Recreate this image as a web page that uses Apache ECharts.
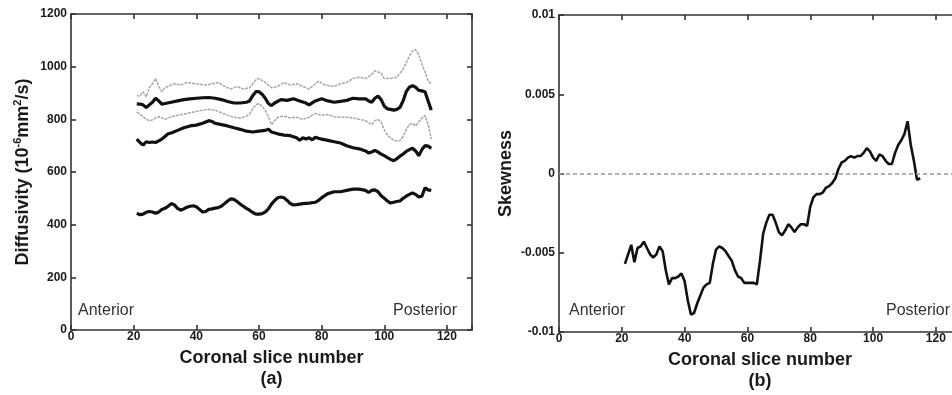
<!DOCTYPE html>
<html><head><meta charset="utf-8">
<script src="https://cdn.jsdelivr.net/npm/echarts@6/dist/echarts.min.js"></script>
<style>html,body{margin:0;padding:0;background:#fff}#c{width:952px;height:395px}</style>
</head><body><div id="c"></div>
<script>
// ---- data ----
const xTicks = [0, 20, 40, 60, 80, 100, 120];
const diffTicks = [0, 200, 400, 600, 800, 1000, 1200];
const skewTicks = [-0.01, -0.005, 0, 0.005, 0.01];

const upperGray = [[21,890],[22,888],[23,905],[24,885],[25,920],[26,935],[27,955],[28,925],[29,905],[30,920],[31,925],[33,935],[35,930],[37,940],[40,935],[43,930],[45,935],[47,940],[49,925],[51,915],[53,925],[55,915],[57,920],[59,950],[60,955],[62,940],[64,920],[66,925],[68,940],[70,930],[72,935],[74,925],[76,915],[78,935],[79,945],[81,930],[84,925],[86,935],[88,940],[90,955],[92,960],[94,955],[96,970],[97,985],[99,975],[100,955],[102,955],[104,960],[106,990],[108,1040],[109,1060],[110,1065],[111,1045],[112,1010],[113,980],[114,945],[115,935]];

const upperBlack = [[21,859],[22,858],[23,855],[24,845],[25,855],[26,865],[27,880],[28,870],[29,858],[30,860],[32,865],[34,870],[36,875],[38,878],[40,880],[42,882],[44,883],[46,880],[48,875],[50,868],[52,862],[54,862],[56,865],[57,870],[58,890],[59,905],[60,905],[61,895],[62,880],[63,860],[64,852],[65,862],[67,875],[69,872],[71,878],[73,870],[75,862],[76,855],[78,870],[80,878],[82,870],[84,865],[86,868],[88,872],[90,880],[92,878],[94,878],[95,870],[96,865],[97,880],[98,888],[99,875],[100,850],[101,840],[102,838],[103,835],[104,838],[105,845],[106,870],[107,905],[108,922],[109,928],[110,922],[111,910],[112,908],[113,905],[114,870],[115,835]];

const lowerGray = [[21,827],[22,820],[23,810],[24,800],[25,795],[26,798],[27,805],[28,810],[29,805],[30,800],[32,810],[34,815],[36,820],[38,825],[40,830],[42,835],[44,838],[46,835],[48,825],[50,815],[52,808],[54,805],[56,812],[57,820],[58,840],[59,855],[60,860],[61,850],[62,835],[63,810],[64,780],[65,795],[66,808],[68,812],[70,805],[72,808],[74,800],[76,808],[78,822],[80,815],[82,818],[84,810],[86,808],[88,808],[90,805],[92,800],[94,795],[96,780],[97,795],[98,800],[99,790],[100,760],[101,740],[102,730],[103,720],[104,718],[105,720],[106,735],[107,760],[108,780],[109,785],[110,775],[111,790],[112,805],[113,815],[114,780],[115,725]];

const middleBlack = [[21,725],[22,712],[23,702],[24,715],[25,712],[26,714],[27,712],[28,718],[29,725],[30,735],[31,745],[32,748],[34,758],[36,768],[38,775],[40,778],[42,785],[44,795],[45,792],[46,785],[48,780],[50,775],[52,768],[54,762],[56,755],[58,752],[60,755],[62,758],[63,762],[64,752],[66,745],[68,740],[70,738],[72,730],[73,720],[74,730],[75,725],[76,730],[77,722],[78,732],[79,728],[80,725],[82,720],[84,715],[86,710],[88,700],[90,692],[92,688],[94,680],[95,672],[96,676],[97,682],[98,676],[99,668],[100,662],[101,655],[102,648],[103,643],[104,650],[105,660],[106,668],[107,678],[108,685],[109,690],[110,680],[111,662],[112,685],[113,700],[114,698],[115,690]];

const lowerBlack = [[21,443],[22,438],[23,440],[24,447],[25,450],[26,448],[27,443],[28,448],[29,458],[30,462],[31,470],[32,480],[33,475],[34,462],[35,455],[36,460],[37,466],[38,470],[39,472],[40,468],[41,458],[42,448],[43,450],[44,458],[45,460],[46,463],[47,465],[48,470],[49,480],[50,490],[51,498],[52,496],[53,488],[54,478],[55,470],[56,462],[57,455],[58,446],[59,440],[60,440],[61,442],[62,448],[63,460],[64,478],[65,492],[66,502],[67,505],[68,502],[69,492],[70,480],[71,475],[72,476],[74,480],[76,482],[78,485],[79,492],[80,502],[81,510],[82,518],[84,525],[86,525],[88,530],[90,535],[92,535],[94,530],[95,522],[96,530],[97,532],[98,525],[99,510],[100,500],[101,490],[102,482],[103,485],[104,488],[105,490],[106,500],[107,508],[108,515],[109,520],[110,515],[111,505],[112,508],[113,540],[114,532],[115,530]];

const skewSlices = [21,22,23,24,25,26,27,28,29,30,31,32,33,34,35,36,37,38,39,40,41,42,43,44,45,46,47,48,49,50,51,52,53,54,55,56,57,58,59,60,61,62,63,64,65,66,67,68,69,70,71,72,73,74,75,76,77,78,79,80,81,82,83,84,85,86,87,88,89,90,91,92,93,94,95,96,97,98,99,100,101,102,103,104,105,106,107,108,109,110,111,112,113,114,115];
const skewValues = [-0.0057,-0.0051,-0.0045,-0.0056,-0.0047,-0.0046,-0.0043,-0.0047,-0.0051,-0.0053,-0.0051,-0.0046,-0.0049,-0.0061,-0.0070,-0.0066,-0.0066,-0.0065,-0.0063,-0.0068,-0.0080,-0.0089,-0.0088,-0.0082,-0.0077,-0.0072,-0.0070,-0.0069,-0.0057,-0.0048,-0.0046,-0.0047,-0.0049,-0.0052,-0.0055,-0.0061,-0.0065,-0.0066,-0.0069,-0.0069,-0.0069,-0.0069,-0.0070,-0.0055,-0.0038,-0.0031,-0.0026,-0.0026,-0.0031,-0.0037,-0.0039,-0.0036,-0.0032,-0.0034,-0.0037,-0.0034,-0.0032,-0.0032,-0.0033,-0.0021,-0.0015,-0.0013,-0.0013,-0.0012,-0.0009,-0.0008,-0.0006,-0.0003,0.0003,0.0007,0.0008,0.0010,0.0011,0.0010,0.0011,0.0011,0.0013,0.0016,0.0014,0.0010,0.0008,0.0012,0.0011,0.0008,0.0006,0.0006,0.0013,0.0018,0.0021,0.0025,0.0033,0.0018,0.0008,-0.0004,-0.0003];

const leftTitleX = 'Coronal slice number\n(a)';
const rightTitleX = 'Coronal slice number\n(b)';
const leftTitleY = '{b|Diffusivity (10}{s|-6}{b|mm}{s|2}{b|/s)}';
const rightTitleY = 'Skewness';

// ---- chart ----
const FONT = 'Liberation Sans, Arial, sans-serif';
const axisLineStyle = {color: '#333', width: 1.6};
const tickLabel = {fontFamily: FONT, fontSize: 12, fontWeight: 'bold', color: '#1a1a1a'};
const xFmt = v => (xTicks.indexOf(v) >= 0 ? String(v) : '');

function xAxes(gi, name) {
  return [
    {type: 'value', gridIndex: gi, min: 0, max: 128, interval: 20, position: 'bottom',
     axisLine: {show: true, onZero: false, lineStyle: axisLineStyle},
     axisTick: {show: true, inside: true, length: 5, lineStyle: axisLineStyle},
     axisLabel: Object.assign({margin: 1, formatter: xFmt}, tickLabel),
     splitLine: {show: false},
     name: name, nameLocation: 'middle', nameGap: 18,
     nameTextStyle: {fontFamily: FONT, fontSize: 18, fontWeight: 'bold', color: '#1a1a1a', lineHeight: 21, verticalAlign: 'top'}},
    {type: 'value', gridIndex: gi, min: 0, max: 128, interval: 20, position: 'top',
     axisLine: {show: true, onZero: false, lineStyle: axisLineStyle},
     axisTick: {show: true, inside: true, length: 5, lineStyle: axisLineStyle},
     axisLabel: {show: false}, splitLine: {show: false}}
  ];
}

function yAxes(gi, min, max, interval, fmt, name, gap, rich) {
  return [
    {type: 'value', gridIndex: gi, min: min, max: max, interval: interval, position: 'left',
     axisLine: {show: true, onZero: false, lineStyle: axisLineStyle},
     axisTick: {show: true, inside: true, length: 5, lineStyle: axisLineStyle},
     axisLabel: Object.assign({margin: 4, formatter: fmt}, tickLabel),
     splitLine: {show: false},
     name: name, nameLocation: 'middle', nameGap: gap, nameRotate: 90,
     nameTextStyle: Object.assign({fontFamily: FONT, fontSize: 18, fontWeight: 'bold', color: '#1a1a1a'}, rich ? {rich: rich} : {})},
    {type: 'value', gridIndex: gi, min: min, max: max, interval: interval, position: 'right',
     axisLine: {show: true, onZero: false, lineStyle: axisLineStyle},
     axisTick: {show: true, inside: true, length: 5, lineStyle: axisLineStyle},
     axisLabel: {show: false}, splitLine: {show: false}}
  ];
}

const richY = {
  b: {fontFamily: FONT, fontSize: 18, fontWeight: 'bold', color: '#1a1a1a', lineHeight: 22},
  s: {fontFamily: FONT, fontSize: 11, fontWeight: 'bold', color: '#1a1a1a', lineHeight: 12, verticalAlign: 'top'}
};

const skewFmt = v => {
  const r = Math.round(v * 1000) / 1000;
  if (r === 0) return '0';
  return String(r);
};

const thick = {color: '#111', width: 3.2};
const thin = {color: '#a8a8a8', width: 1.5, type: [3, 1]};

function lineSeries(data, style, xi, yi) {
  return {type: 'line', data: data, xAxisIndex: xi, yAxisIndex: yi, symbol: 'none',
          lineStyle: style, silent: true, z: style === thick ? 3 : 2};
}

const chart = echarts.init(document.getElementById('c'), null, {renderer: 'canvas'});
chart.setOption({
  animation: false,
  backgroundColor: '#fff',
  grid: [
    {left: 71, top: 14, width: 401, height: 316, outerBoundsMode: 'none', containLabel: false},
    {left: 559, top: 15, width: 402, height: 317, outerBoundsMode: 'none', containLabel: false}
  ],
  xAxis: [].concat(xAxes(0, leftTitleX), xAxes(1, rightTitleX)),
  yAxis: [].concat(
    yAxes(0, 0, 1200, 200, v => String(v), leftTitleY, 37, richY),
    yAxes(1, -0.01, 0.01, 0.005, skewFmt, rightTitleY, 44, null)
  ),
  series: [
    lineSeries(upperGray, thin, 0, 0),
    lineSeries(lowerGray, thin, 0, 0),
    lineSeries(upperBlack, thick, 0, 0),
    lineSeries(middleBlack, thick, 0, 0),
    lineSeries(lowerBlack, thick, 0, 0),
    {type: 'line', xAxisIndex: 2, yAxisIndex: 2, symbol: 'none', silent: true,
     data: skewSlices.map((s, i) => [s, skewValues[i]]),
     lineStyle: {color: '#111', width: 2.6},
     markLine: {silent: true, symbol: 'none', label: {show: false},
       lineStyle: {color: '#999', width: 1.5, type: [4, 3]},
       data: [{yAxis: 0}]}}
  ],
  graphic: [
    {type: 'text', left: 78, top: 303, style: {text: 'Anterior', fontFamily: FONT, fontSize: 16, fill: '#333'}},
    {type: 'text', left: 393, top: 303, style: {text: 'Posterior', fontFamily: FONT, fontSize: 16, fill: '#333'}},
    {type: 'text', left: 569, top: 303, style: {text: 'Anterior', fontFamily: FONT, fontSize: 16, fill: '#333'}},
    {type: 'text', left: 886, top: 303, style: {text: 'Posterior', fontFamily: FONT, fontSize: 16, fill: '#333'}}
  ]
});
</script>
</body></html>
